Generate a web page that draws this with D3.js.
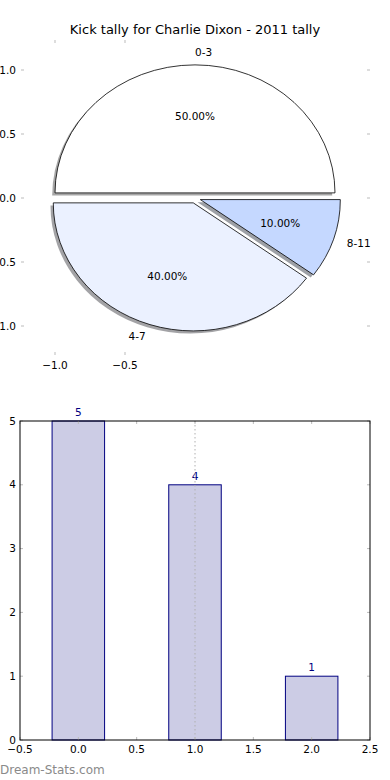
<!DOCTYPE html>
<html>
<head>
<meta charset="utf-8">
<script src="https://cdn.jsdelivr.net/npm/d3@7"></script>
<style>
  body { margin: 0; background: #fff; }
  svg { display: block; font-family: "DejaVu Sans", sans-serif; }
</style>
</head>
<body>
<div id="chart"></div>
<script>
// Kick counts per range, shared by both panels
const kickRanges = ["0-3", "4-7", "8-11"];
const kickCounts = [5, 4, 1];
const sliceColors = ["#ffffff", "#ebf1ff", "#c5d8ff"];
const barPositions = [0, 1, 2];

const pieYTicks = [1.0, 0.5, 0.0, -0.5, -1.0];
const pieXTicks = [-1.0, -0.5];
const barXTicks = [-0.5, 0.0, 0.5, 1.0, 1.5, 2.0, 2.5];
const barYTicks = [0, 1, 2, 3, 4, 5];

const width = 390, height = 780;
const svg = d3.select("#chart").append("svg")
  .attr("width", width)
  .attr("height", height);

const fmt1 = (d) => d3.format(".1f")(d).replace("-", "\u2212");
const tickGray = "#bbb";

// ---------- Pie panel ----------
const pieBox = { left: 21, right: 370, top: 40, bottom: 355 };
const xPie = d3.scaleLinear().domain([-1, 1]).range([55, 335]);
const yPie = d3.scaleLinear().domain([-1, 1]).range([326, 70]);
const sx = xPie(1) - xPie(0);
const sy = yPie(0) - yPie(1);

svg.append("text")
  .attr("x", 195).attr("y", 34)
  .attr("text-anchor", "middle")
  .attr("font-size", 13)
  .text("Kick tally for Charlie Dixon - 2011 tally");

// matplotlib style: start at east, counter-clockwise
const pie = d3.pie().sort(null)
  .startAngle(Math.PI / 2)
  .endAngle(Math.PI / 2 - 2 * Math.PI);
const slices = pie(kickCounts);
const arc = d3.arc().innerRadius(0).outerRadius(1);
const explode = 0.04;
const total = d3.sum(kickCounts);

// mid angle in math convention
const midTheta = (d) => Math.PI / 2 - (d.startAngle + d.endAngle) / 2;

const pieG = svg.append("g");

// shadows go under every wedge
slices.forEach((d, i) => {
  const t = midTheta(d);
  const ex = explode * Math.cos(t) - 0.02;
  const ey = explode * Math.sin(t) - 0.02;
  const c = d3.rgb(sliceColors[i]);
  pieG.append("path")
    .attr("d", arc(d))
    .attr("transform", `translate(${xPie(ex)},${yPie(ey)}) scale(${sx},${sy})`)
    .attr("fill", d3.rgb(c.r * 0.3, c.g * 0.3, c.b * 0.3))
    .attr("fill-opacity", 0.5)
    .attr("stroke", "none");
});

slices.forEach((d, i) => {
  const t = midTheta(d);
  const ex = explode * Math.cos(t);
  const ey = explode * Math.sin(t);
  pieG.append("path")
    .attr("d", arc(d))
    .attr("transform", `translate(${xPie(ex)},${yPie(ey)}) scale(${sx},${sy})`)
    .attr("fill", sliceColors[i])
    .attr("stroke", "#000")
    .attr("stroke-width", 0.8)
    .attr("vector-effect", "non-scaling-stroke");

  // category label at 1.1 radius
  const lx = ex + 1.1 * Math.cos(t);
  const ly = ey + 1.1 * Math.sin(t);
  pieG.append("text")
    .attr("x", xPie(lx)).attr("y", yPie(ly))
    .attr("dy", "0.35em")
    .attr("text-anchor", lx > 0 ? "start" : "end")
    .attr("font-size", 10.5)
    .text(kickRanges[i]);

  // percentage at 0.6 radius
  const px = ex + 0.6 * Math.cos(t);
  const py = ey + 0.6 * Math.sin(t);
  pieG.append("text")
    .attr("x", xPie(px)).attr("y", yPie(py))
    .attr("dy", "0.35em")
    .attr("text-anchor", "middle")
    .attr("font-size", 10.5)
    .text(d3.format(".2f")(kickCounts[i] / total * 100) + "%");
});

// pie axis ticks (no frame)
pieYTicks.forEach((v) => {
  const y = yPie(v);
  svg.append("line").attr("x1", pieBox.left).attr("x2", pieBox.left + 3)
    .attr("y1", y).attr("y2", y).attr("stroke", tickGray);
  svg.append("line").attr("x1", pieBox.right - 3).attr("x2", pieBox.right)
    .attr("y1", y).attr("y2", y).attr("stroke", tickGray);
  svg.append("text")
    .attr("x", 16).attr("y", y).attr("dy", "0.35em")
    .attr("text-anchor", "end").attr("font-size", 10.5)
    .text(fmt1(v));
});
pieXTicks.forEach((v) => {
  const x = xPie(v);
  svg.append("line").attr("x1", x).attr("x2", x)
    .attr("y1", pieBox.top).attr("y2", pieBox.top + 3).attr("stroke", tickGray);
  svg.append("line").attr("x1", x).attr("x2", x)
    .attr("y1", pieBox.bottom - 3).attr("y2", pieBox.bottom).attr("stroke", tickGray);
  svg.append("text")
    .attr("x", x).attr("y", 365).attr("dy", "0.35em")
    .attr("text-anchor", "middle").attr("font-size", 10.5)
    .text(fmt1(v));
});

// ---------- Bar panel ----------
const xBar = d3.scaleLinear().domain([-0.5, 2.5]).range([20, 370]);
const yBar = d3.scaleLinear().domain([0, 5]).range([740, 421]);
const barWidth = 0.45;

const barG = svg.append("g");
barG.selectAll("rect.bar")
  .data(kickCounts)
  .enter().append("rect")
  .attr("class", "bar")
  .attr("x", (d, i) => xBar(barPositions[i] - barWidth / 2))
  .attr("width", (d, i) => xBar(barPositions[i] + barWidth / 2) - xBar(barPositions[i] - barWidth / 2))
  .attr("y", (d) => yBar(d))
  .attr("height", (d) => yBar(0) - yBar(d))
  .attr("fill", "#cccce5")
  .attr("stroke", "#000080")
  .attr("stroke-width", 1);

barG.selectAll("text.val")
  .data(kickCounts)
  .enter().append("text")
  .attr("class", "val")
  .attr("x", (d, i) => xBar(barPositions[i]))
  .attr("y", (d) => yBar(d) - 5)
  .attr("text-anchor", "middle")
  .attr("font-size", 10.5)
  .attr("fill", "#000080")
  .text((d) => d);

// dotted reference line at x = 1
barG.append("line")
  .attr("x1", xBar(1)).attr("x2", xBar(1))
  .attr("y1", yBar(5)).attr("y2", yBar(0))
  .attr("stroke", "#b0b0b0")
  .attr("stroke-dasharray", "1.5,2.5");

// ticks
barXTicks.forEach((v) => {
  const x = xBar(v);
  svg.append("line").attr("x1", x).attr("x2", x)
    .attr("y1", yBar(5)).attr("y2", yBar(5) + 3).attr("stroke", tickGray);
  svg.append("line").attr("x1", x).attr("x2", x)
    .attr("y1", yBar(0) - 3).attr("y2", yBar(0)).attr("stroke", tickGray);
  svg.append("text")
    .attr("x", x).attr("y", 749).attr("dy", "0.35em")
    .attr("text-anchor", "middle").attr("font-size", 10.5)
    .text(fmt1(v));
});
barYTicks.forEach((v) => {
  const y = yBar(v);
  svg.append("line").attr("x1", xBar(-0.5)).attr("x2", xBar(-0.5) + 3)
    .attr("y1", y).attr("y2", y).attr("stroke", tickGray);
  svg.append("line").attr("x1", xBar(2.5) - 3).attr("x2", xBar(2.5))
    .attr("y1", y).attr("y2", y).attr("stroke", tickGray);
  svg.append("text")
    .attr("x", 16).attr("y", y).attr("dy", "0.35em")
    .attr("text-anchor", "end").attr("font-size", 10.5)
    .text(v);
});

// frame
svg.append("rect")
  .attr("x", xBar(-0.5)).attr("y", yBar(5))
  .attr("width", xBar(2.5) - xBar(-0.5))
  .attr("height", yBar(0) - yBar(5))
  .attr("fill", "none")
  .attr("stroke", "#000")
  .attr("stroke-width", 1);

// watermark
svg.append("text")
  .attr("x", 0).attr("y", 774)
  .attr("font-size", 12)
  .attr("fill", "#8a8a8a")
  .text("Dream-Stats.com");
</script>
</body>
</html>
